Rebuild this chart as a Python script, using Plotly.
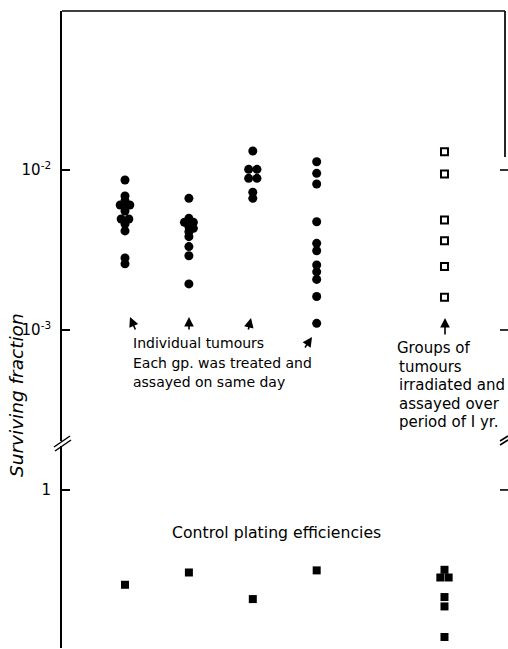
import numpy as np
import plotly.graph_objects as go

# ---- figure geometry -------------------------------------------------------
W, H = 508, 649
ML, MR, MT, MB = 62, 3, 11, 1
PW, PH = W - ML - MR, H - MT - MB


def yp(py):
    """pixel row -> paper fraction"""
    return (H - MB - py) / PH


def xp(px):
    """pixel column -> paper fraction"""
    return (px - ML) / PW


# ---- data --------------------------------------------------------------------
group_pos = [1, 2, 3, 4, 6]

# surviving fraction, individual tumours (one group per day)
sf_g1 = [0.00866, 0.00688, 0.00640, 0.00604, 0.00604, 0.00587, 0.00554,
         0.00494, 0.00494, 0.00460, 0.00416, 0.00282, 0.00259]
jit_g1 = [0, 0, 0, -0.075, 0.075, 0, 0, -0.06, 0.06, 0, 0, 0, 0]

sf_g2 = [0.00665, 0.00499, 0.00471, 0.00471, 0.00442, 0.00432, 0.00411,
         0.00383, 0.00332, 0.00291, 0.00194]
jit_g2 = [0, 0, -0.07, 0.07, 0, 0.07, 0, 0, 0, 0, 0]

sf_g3 = [0.01315, 0.0101, 0.0101, 0.00887, 0.00887, 0.00726, 0.00665]
jit_g3 = [0, -0.065, 0.065, -0.065, 0.065, 0, 0]

sf_g4 = [0.01127, 0.00953, 0.00818, 0.00475, 0.00348, 0.00313, 0.00255,
         0.00231, 0.00207, 0.00162, 0.00110]
jit_g4 = [0] * len(sf_g4)

# groups of tumours irradiated and assayed over one year
sf_pooled = [0.01302, 0.00944, 0.00487, 0.00361, 0.00249, 0.00160]

# control plating efficiencies
pe_groups = [0.2505, 0.2997, 0.2033, 0.309]
pe_pooled = [0.3117, 0.2786, 0.2786, 0.2094, 0.1826, 0.1169]
jit_pe_pooled = [0, -0.065, 0.065, 0, 0, 0]

# ---- axis ranges (log10) -------------------------------------------------------
UP_DOM = [yp(441), 1.0]
UP_RNG = [-3.694, -1.006]
LO_DOM = [0.0, yp(446)]
LO_RNG = [-1.002, 0.2785]


def up_paper(v):
    f = (np.log10(v) - UP_RNG[0]) / (UP_RNG[1] - UP_RNG[0])
    return UP_DOM[0] + f * (UP_DOM[1] - UP_DOM[0])


def lo_paper(v):
    f = (np.log10(v) - LO_RNG[0]) / (LO_RNG[1] - LO_RNG[0])
    return LO_DOM[0] + f * (LO_DOM[1] - LO_DOM[0])


fig = go.Figure()

dot = dict(symbol="circle", size=9, color="black", line=dict(width=0))
for g, vals, jit in zip(group_pos[:4],
                        [sf_g1, sf_g2, sf_g3, sf_g4],
                        [jit_g1, jit_g2, jit_g3, jit_g4]):
    fig.add_trace(go.Scatter(
        x=[g + j for j in jit], y=vals, mode="markers", marker=dot,
        xaxis="x", yaxis="y", showlegend=False, hoverinfo="y"))

fig.add_trace(go.Scatter(
    x=[group_pos[4]] * len(sf_pooled), y=sf_pooled, mode="markers",
    marker=dict(symbol="square-open", size=7, color="black",
                line=dict(width=2, color="black")),
    xaxis="x", yaxis="y", showlegend=False, hoverinfo="y"))

sq = dict(symbol="square", size=8, color="black", line=dict(width=0))
fig.add_trace(go.Scatter(
    x=group_pos[:4], y=pe_groups, mode="markers", marker=sq,
    xaxis="x2", yaxis="y2", showlegend=False, hoverinfo="y"))
fig.add_trace(go.Scatter(
    x=[group_pos[4] + j for j in jit_pe_pooled], y=pe_pooled, mode="markers",
    marker=sq, xaxis="x2", yaxis="y2", showlegend=False, hoverinfo="y"))

FONT = "DejaVu Sans"
TICKFONT = dict(family=FONT, size=15, color="black")
yax_common = dict(type="log", showline=True, linecolor="black", linewidth=1.7,
                  ticks="inside", ticklen=8, tickwidth=1.6, tickcolor="black",
                  showgrid=False, zeroline=False, tickfont=TICKFONT,
                  ticklabelstandoff=6, fixedrange=True)

fig.update_layout(
    width=W, height=H,
    margin=dict(l=ML, r=MR, t=MT, b=MB, pad=0),
    paper_bgcolor="white", plot_bgcolor="white",
    font=dict(family=FONT, color="black"),
    xaxis=dict(domain=[0, 1], range=[0.014, 6.947], visible=False,
               anchor="y", fixedrange=True),
    xaxis2=dict(domain=[0, 1], range=[0.014, 6.947], visible=False,
                anchor="y2", fixedrange=True),
    yaxis=dict(domain=UP_DOM, range=UP_RNG, anchor="x",
               tickvals=[0.01, 0.001],
               ticktext=["10<sup>-2</sup>", "10<sup>-3</sup>"], **yax_common),
    yaxis2=dict(domain=LO_DOM, range=LO_RNG, anchor="x2",
                tickvals=[1, 0.1], ticktext=["1", "10<sup>-1</sup>"],
                **yax_common),
)

shapes = []
line_k = dict(color="black", width=1.7)
# top frame and the upper part of the right frame
shapes.append(dict(type="line", xref="paper", yref="paper",
                   x0=0, x1=xp(505), y0=1, y1=1, line=line_k))
shapes.append(dict(type="line", xref="paper", yref="paper",
                   x0=xp(505), x1=xp(505), y0=1, y1=yp(157), line=line_k))
# right-hand tick marks
for yy in [up_paper(0.01), up_paper(0.001), lo_paper(1)]:
    shapes.append(dict(type="line", xref="paper", yref="paper",
                       x0=xp(500), x1=xp(508), y0=yy, y1=yy,
                       line=dict(color="black", width=1.6)))
# axis-break marks
for (x0, y0, x1, y1) in [(54, 447, 70, 436), (55, 451, 71, 440),
                         (500, 441, 508, 436), (500, 445, 508, 440)]:
    shapes.append(dict(type="line", xref="paper", yref="paper",
                       x0=xp(x0), y0=yp(y0), x1=xp(x1), y1=yp(y1),
                       line=dict(color="black", width=1.5)))
fig.update_layout(shapes=shapes)

ann = []


def label(text, x, y, size=14, anchor="left"):
    ann.append(dict(text=text, xref="paper", yref="paper", x=xp(x), y=yp(y),
                    xanchor=anchor, yanchor="middle", showarrow=False,
                    font=dict(family=FONT, size=size, color="black"),
                    align="left"))


block_individual = ["Individual tumours", "Each gp. was treated and",
                    "assayed on same day"]
for i, line in enumerate(block_individual):
    label(line, 131, 343 + 19.5 * i)

block_groups = ["Groups of", "tumours", "irradiated and", "assayed over",
                "period of I yr."]
for i, line in enumerate(block_groups):
    label(line, 395 if i == 0 else 397, 348 + 18.6 * i, size=15)

label("Control plating efficiencies", 276, 532, size=15.7, anchor="center")

# arrows pointing at each column
arrows = [(group_pos[0], 130, 317, 6, 14), (group_pos[1], 189, 317, 0, 14),
          (group_pos[2], 251, 318, -3, 13), (group_pos[3], 312, 337, -8, 12),
          (group_pos[4], 445, 318, 0, 18)]
for _, hx, hy, dx, dy in arrows:
    ann.append(dict(text="", xref="paper", yref="paper", x=xp(hx), y=yp(hy),
                    ax=dx, ay=dy, showarrow=True, arrowhead=2, arrowsize=1.2,
                    arrowwidth=1.6, arrowcolor="black"))

ann.append(dict(text="<i>Surviving fraction</i>", xref="paper", yref="paper",
                x=xp(17), y=yp(395), xanchor="center", yanchor="middle",
                textangle=-90, showarrow=False,
                font=dict(family=FONT, size=18.5, color="black")))
fig.update_layout(annotations=ann)

fig.write_html("out.html")
